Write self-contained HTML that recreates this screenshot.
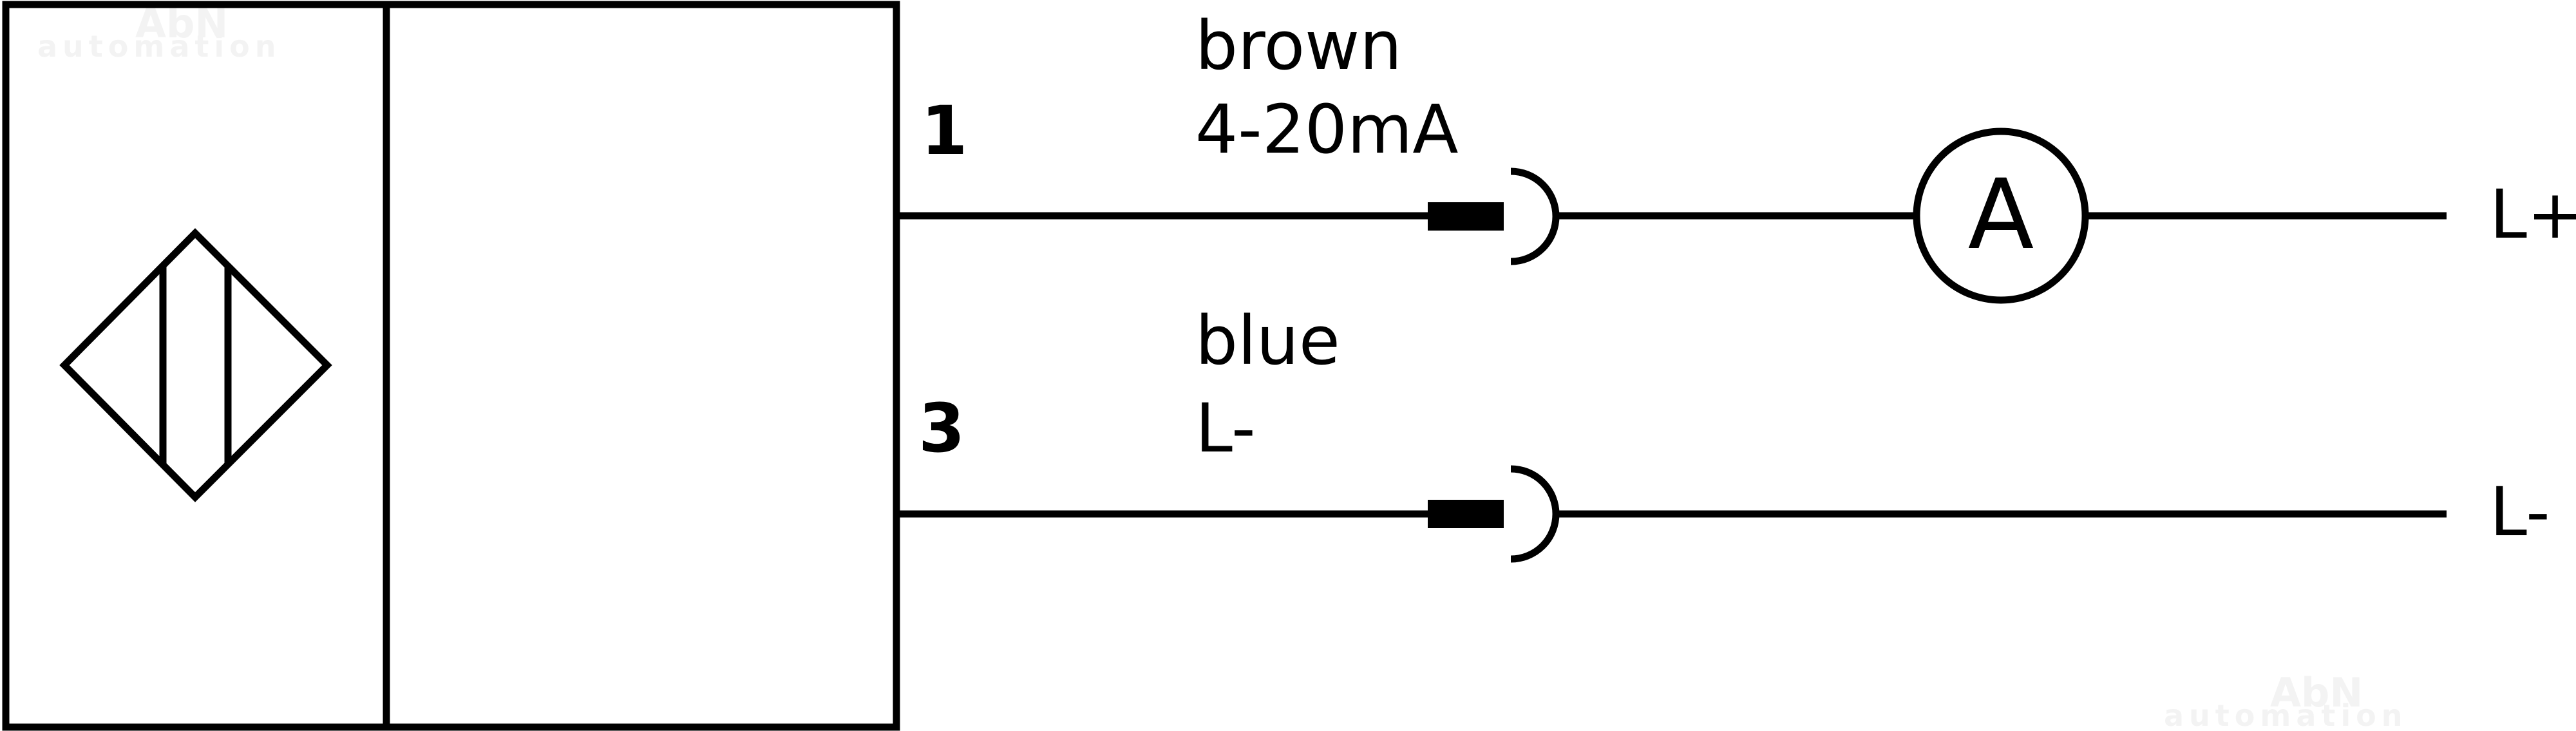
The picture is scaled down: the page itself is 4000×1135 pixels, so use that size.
<!DOCTYPE html>
<html><head><meta charset="utf-8"><style>
html,body{margin:0;padding:0;background:#fff;}
svg{display:block;}
text{font-family:"DejaVu Sans","Liberation Sans",sans-serif;}
</style></head><body>
<svg width="4000" height="1135" viewBox="0 0 4000 1135" xmlns="http://www.w3.org/2000/svg">
<rect width="4000" height="1135" fill="#fff"/>
<!-- watermarks -->
<g fill="#f3f3f3" font-weight="bold" font-family="Liberation Sans, sans-serif">
<text x="210" y="58" font-size="62">AbN</text>
<text x="58" y="88" font-size="46" letter-spacing="8">automation</text>
<text x="3525" y="1097" font-size="62">AbN</text>
<text x="3360" y="1127" font-size="46" letter-spacing="8">automation</text>
</g>
<g stroke="#000" stroke-width="11" fill="none">
<rect x="9" y="7" width="1383" height="1122"/>
<line x1="600" y1="7" x2="600" y2="1129"/>
<polygon points="303,362 508,567 303,772 100,567"/>
<line x1="253" y1="413" x2="253" y2="721"/>
<line x1="354" y1="413" x2="354" y2="721"/>
<line x1="1392" y1="335" x2="2220" y2="335"/>
<line x1="1392" y1="798" x2="2220" y2="798"/>
<path d="M2346,266 A70,70 0 0 1 2346,406"/>
<path d="M2346,728 A70,70 0 0 1 2346,868"/>
<line x1="2412" y1="335" x2="2976" y2="335"/>
<line x1="3238" y1="335" x2="3799" y2="335"/>
<line x1="2412" y1="798" x2="3799" y2="798"/>
<circle cx="3107" cy="335" r="131"/>
</g>
<rect x="2217" y="314" width="118" height="44" fill="#000"/>
<rect x="2217" y="776" width="118" height="44" fill="#000"/>
<g fill="#000" font-size="104">
<text x="1430" y="239" font-weight="bold">1</text>
<text x="1426" y="701" font-weight="bold">3</text>
<text x="1856" y="107">brown</text>
<text x="1856" y="237">4-20mA</text>
<text x="1856" y="565">blue</text>
<text x="1856" y="701">L-</text>
<text x="3866" y="369">L+</text>
<text x="3866" y="831">L-</text>
<text x="3107" y="385" font-size="150" text-anchor="middle">A</text>
</g>
</svg>
</body></html>
